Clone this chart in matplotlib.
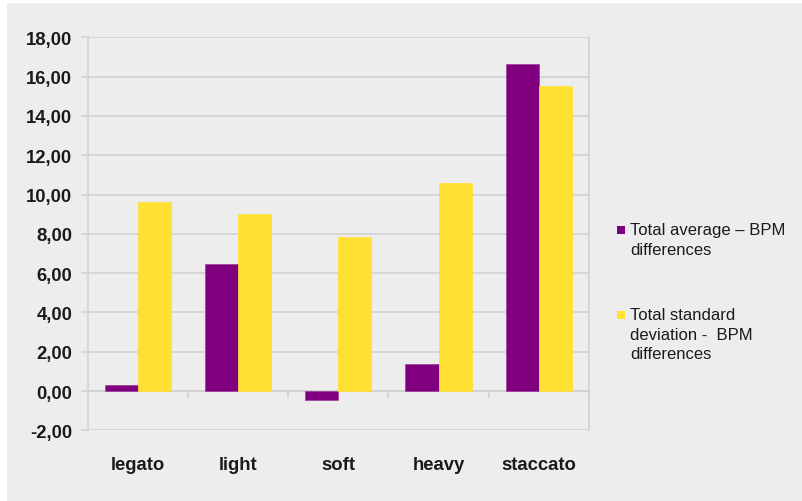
import matplotlib
matplotlib.use("Agg")
import matplotlib.pyplot as plt
from matplotlib.patches import Rectangle
import numpy as np

categories = ["legato", "light", "soft", "heavy", "staccato"]
avg_bpm_diff = [0.32, 6.48, -0.45, 1.35, 16.62]
std_bpm_diff = [9.62, 9.00, 7.82, 10.58, 15.52]
series_names = ["Total average \u2013 BPM\ndifferences",
                "Total standard\ndeviation -  BPM\ndifferences"]
y_ticks = [-2, 0, 2, 4, 6, 8, 10, 12, 14, 16, 18]
y_tick_labels = ["-2,00", "0,00", "2,00", "4,00", "6,00", "8,00",
                 "10,00", "12,00", "14,00", "16,00", "18,00"]

colors = ["#800080", "#FFE033"]
bg = "#EDEDED"
grid_c = "#D2D2D2"
W, H = 802, 502

plt.rcParams["font.family"] = ["Liberation Sans", "DejaVu Sans"]

fig = plt.figure(figsize=(W / 100, H / 100), dpi=100, facecolor="white")
fig.add_artist(Rectangle((7 / W, 0), 1 - 7 / W, (H - 4) / H,
                         transform=fig.transFigure, facecolor=bg,
                         edgecolor="none", zorder=0))

ax = fig.add_axes([87.5 / W, (H - 431.3) / H, (589 - 87.5) / W, (431.3 - 38.3) / H])
ax.set_facecolor(bg)

x = np.arange(len(categories))
bw = 0.33
ax.bar(x - bw, avg_bpm_diff, width=bw, align="edge", color=colors[0],
       edgecolor="#9A3A9A", linewidth=0.5, zorder=3)
ax.bar(x, std_bpm_diff, width=bw, align="edge", color=colors[1],
       edgecolor=colors[1], linewidth=0.5, zorder=3)

ax.set_xlim(-0.5, len(categories) - 0.5)
ax.set_ylim(-2, 18)
ax.set_yticks(y_ticks)
ax.set_yticklabels(y_tick_labels, fontsize=13.3, fontweight="bold", color="#1a1a1a")
ax.yaxis.grid(True, color=grid_c, linewidth=1.2, zorder=0)
ax.set_axisbelow(True)
ax.tick_params(axis="y", length=5, width=1.2, color=grid_c, pad=6)

for side in ["top", "right", "left"]:
    ax.spines[side].set_color(grid_c)
    ax.spines[side].set_linewidth(1.2)
ax.spines["top"].set_visible(False)
ax.spines["bottom"].set_position(("data", 0))
ax.spines["bottom"].set_color(grid_c)
ax.spines["bottom"].set_linewidth(1.2)

ax.set_xticks(np.arange(len(categories)) + 0.5)
ax.set_xticklabels([])
ax.set_xticks(x, minor=True)
ax.set_xticklabels(categories, minor=True, fontsize=13.3, fontweight="bold",
                   color="#1a1a1a")
ax.tick_params(axis="x", which="major", length=5, width=1.2, color=grid_c)
ax.tick_params(axis="x", which="minor", length=0, pad=46.5)

# legend (drawn manually, Excel-like)
leg_y = [231, 316]
for i, name in enumerate(series_names):
    yc = leg_y[i]
    fig.add_artist(Rectangle((617 / W, (H - yc - 4) / H), 8 / W, 8 / H,
                             transform=fig.transFigure, facecolor=colors[i],
                             edgecolor="none"))
    fig.text(630 / W, (H - yc + 8) / H, name, fontsize=12, color="#1a1a1a",
             va="top", ha="left", linespacing=1.38)

fig.savefig("out.png", dpi=100, facecolor=fig.get_facecolor())
